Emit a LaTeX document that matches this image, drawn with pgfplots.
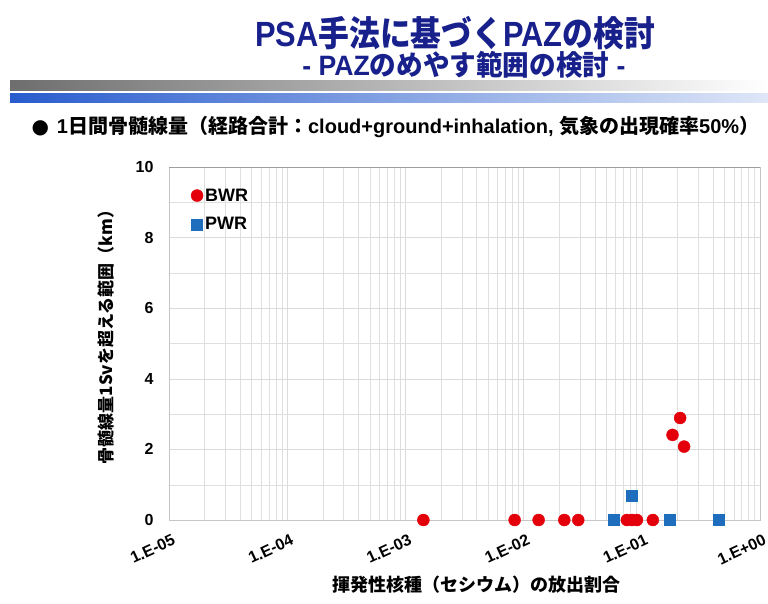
\documentclass[border=0pt]{standalone}
\usepackage{fontspec}
\setmainfont{Liberation Sans}
\newfontfamily\jp{Noto Sans CJK JP}
\newfontfamily\dv{DejaVu Sans}
\usepackage{pgfplots}
\pgfplotsset{compat=1.18}
\definecolor{bwr}{RGB}{228,0,10}
\definecolor{pwr}{RGB}{31,110,190}
\definecolor{navy}{RGB}{24,32,140}
\definecolor{bar1}{RGB}{110,110,110}
\definecolor{bar2}{RGB}{40,92,205}
\begin{document}
\begin{tikzpicture}
\path[use as bounding box, fill=white] (0pt,0pt) rectangle (768pt,-603pt);
% titles
\node[navy, font=\bfseries\fontsize{35}{37}\selectfont, xscale=0.88] at (455pt,-33pt) {PSA{\jp 手法に基づく}PAZ{\jp の検討}};
\node[navy, font=\bfseries\fontsize{28}{30}\selectfont, xscale=0.95] at (464pt,-65pt) {- PAZ{\jp のめやす範囲の検討} -};
\shade[left color=bar1, right color=white] (10pt,-80pt) rectangle (768pt,-90pt);
\shade[left color=bar2, right color=white!85!bar2] (10pt,-93pt) rectangle (768pt,-102pt);
\node[anchor=west, font=\bfseries\fontsize{20}{22}\selectfont] at (28pt,-127pt) {{\dv ●}\hspace{8pt}1{\jp 日間骨髄線量（経路合計：}cloud+ground+inhalation, {\jp 気象の出現確率}50\%{\jp ）}};
\begin{axis}[
  at={(169pt,-520pt)}, anchor=south west,
  scale only axis, width=591pt, height=353pt,
  xmode=log, log basis x=10,
  xmin=1e-5, xmax=1, ymin=0, ymax=10,
  xtick={1e-5,1e-4,1e-3,1e-2,1e-1,1},
  minor xtick={2e-5,3e-5,4e-5,5e-5,6e-5,7e-5,8e-5,9e-5,
    2e-4,3e-4,4e-4,5e-4,6e-4,7e-4,8e-4,9e-4,
    2e-3,3e-3,4e-3,5e-3,6e-3,7e-3,8e-3,9e-3,
    2e-2,3e-2,4e-2,5e-2,6e-2,7e-2,8e-2,9e-2,
    0.2,0.3,0.4,0.5,0.6,0.7,0.8,0.9},
  xticklabels={1.E-05,1.E-04,1.E-03,1.E-02,1.E-01,1.E+00},
  ytick={0,2,4,6,8,10}, minor ytick={1,3,5,7,9},
  grid=both,
  major grid style={gray!28},
  minor grid style={gray!25},
  major tick length=0pt, minor tick length=0pt,
  axis line style={gray!45},
  extra y ticks={10}, extra y tick labels={},
  extra y tick style={major grid style={gray!75, line width=0.8pt}},
  /pgf/number format/assume math mode=true,
  yticklabel style={font=\bfseries\fontsize{16}{18}\selectfont, xshift=-12pt},
  xticklabel style={font=\bfseries\fontsize{16}{18}\selectfont, rotate=25, anchor=north east, yshift=-10pt, xshift=0pt},
  clip=false,
  legend style={draw=none, fill=none, at={(0.037,0.945)}, anchor=north west,
    font=\bfseries\fontsize{18}{20}\selectfont, row sep=11pt, inner sep=0pt},
  legend cell align=left,
  legend image code/.code={\draw[#1] plot coordinates {(0.15cm,0cm)};},
]
\addplot[only marks, mark=*, mark size=6pt, color=bwr, mark options={fill=bwr, draw=bwr}] coordinates {
(1.42e-3,0) (8.4e-3,0) (0.0134,0) (0.0221,0) (0.029,0) (0.0748,0) (0.0825,0) (0.091,0) (0.124,0)
(0.211,2.89) (0.182,2.41) (0.228,2.08)};
\addlegendentry{BWR}
\addplot[only marks, mark=square*, mark size=5.5pt, color=pwr, mark options={fill=pwr, draw=pwr}] coordinates {
(0.0577,0) (0.0825,0.68) (0.171,0) (0.445,0)};
\addlegendentry{PWR}
\end{axis}
\node[rotate=90, font=\jp\bfseries\fontsize{17}{19}\selectfont] at (106pt,-333pt) {骨髄線量1Svを超える範囲（km）};
\node[font=\jp\bfseries\fontsize{18}{20}\selectfont] at (476pt,-585pt) {揮発性核種（セシウム）の放出割合};
\end{tikzpicture}
\end{document}
